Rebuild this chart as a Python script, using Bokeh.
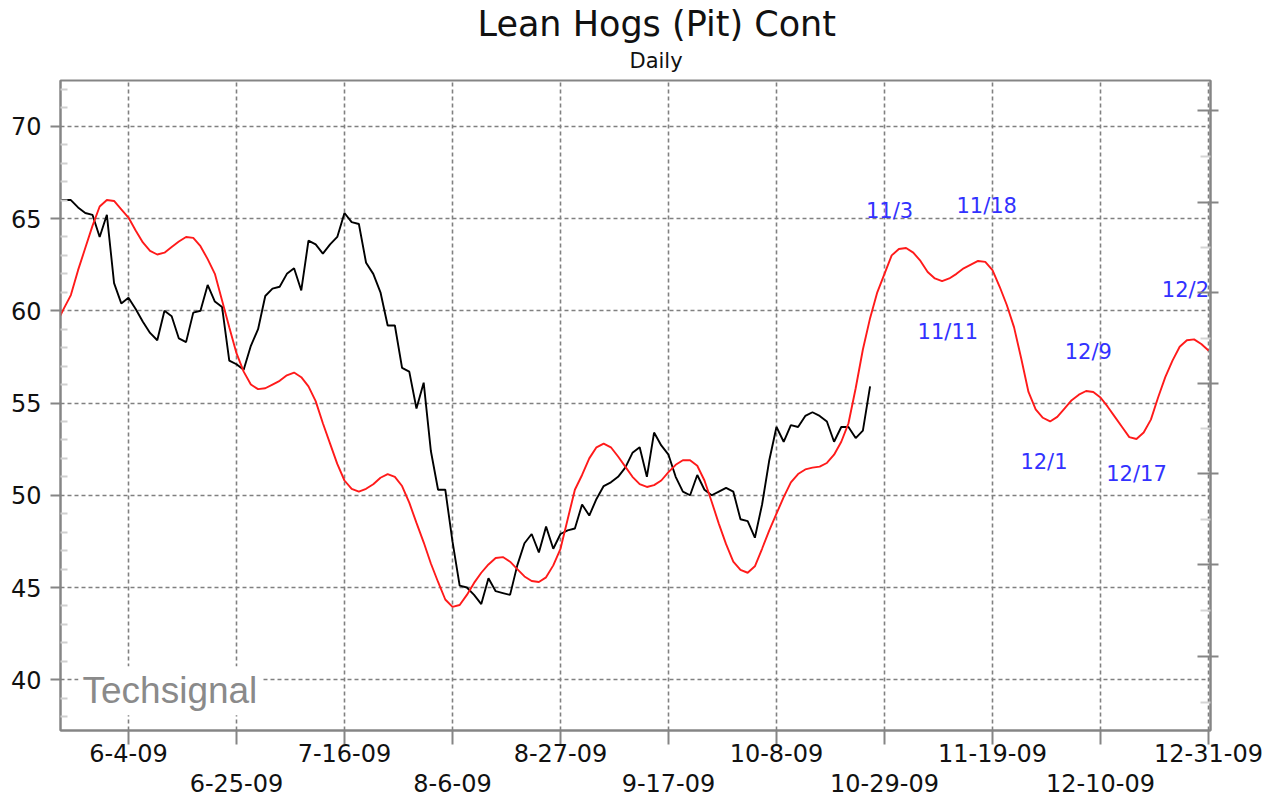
import numpy as np
from bokeh.plotting import figure
from bokeh.models import Range1d, FixedTicker, LinearAxis, Label, Title
from bokeh.core.properties import value
from bokeh.embed import file_html
from bokeh.resources import INLINE

# ---------------- data ----------------
axis_origin = "2009-06-04"          # trading-day axis, weekday spacing
tick_dates = ["2009-06-04", "2009-06-25", "2009-07-16", "2009-08-06", "2009-08-27",
              "2009-09-17", "2009-10-08", "2009-10-29", "2009-11-19", "2009-12-10",
              "2009-12-31"]
tick_labels = ["6-4-09", "6-25-09", "7-16-09", "8-6-09", "8-27-09", "9-17-09",
               "10-8-09", "10-29-09", "11-19-09", "12-10-09", "12-31-09"]
y_ticks = [40, 45, 50, 55, 60, 65, 70]

price_start = "2009-05-21"
price = [66.0, 66.0, 66.0, 65.6, 65.3, 65.2, 64.0, 65.2, 61.5, 60.4,
         60.7, 60.1, 59.4, 58.8, 58.4, 60.0, 59.7, 58.5, 58.3, 59.9,
         60.0, 61.4, 60.5, 60.2, 57.3, 57.1, 56.8, 58.1, 59.0, 60.8,
         61.2, 61.3, 62.0, 62.3, 61.1, 63.8, 63.6, 63.1, 63.6, 64.0,
         65.3, 64.8, 64.7, 62.6, 62.0, 61.0, 59.2, 59.2, 56.9, 56.7,
         54.7, 56.1, 52.4, 50.3, 50.3, 47.5, 45.1, 45.0, 44.6, 44.1,
         45.5, 44.8, 44.7, 44.6, 46.2, 47.4, 47.9, 46.9, 48.3, 47.1,
         47.9, 48.1, 48.2, 49.5, 48.9, 49.8, 50.5, 50.7, 51.0, 51.5,
         52.3, 52.6, 51.0, 53.4, 52.7, 52.2, 51.0, 50.2, 50.0, 51.1,
         50.3, 50.0, 50.2, 50.4, 50.2, 48.7, 48.6, 47.7, 49.5, 51.9,
         53.7, 52.9, 53.8, 53.7, 54.3, 54.5, 54.3, 54.0, 52.9, 53.7,
         53.7, 53.1, 53.5, 55.9]

cycle_start = "2009-05-21"
cycle = [59.3, 60.1, 60.85, 62.2, 63.4, 64.6, 65.65, 66.0, 65.95, 65.5,
         65.05, 64.35, 63.7, 63.25, 63.05, 63.15, 63.45, 63.75, 64.0, 63.95,
         63.5, 62.8, 62.0, 60.55, 59.1, 57.7, 56.7, 56.0, 55.75, 55.8,
         56.0, 56.2, 56.5, 56.65, 56.4, 55.9, 55.1, 53.9, 52.8, 51.7,
         50.8, 50.35, 50.2, 50.35, 50.6, 50.95, 51.15, 51.0, 50.5, 49.6,
         48.5, 47.45, 46.3, 45.3, 44.35, 43.95, 44.05, 44.6, 45.25, 45.8,
         46.25, 46.6, 46.65, 46.4, 46.0, 45.6, 45.35, 45.3, 45.55, 46.2,
         47.1, 48.7, 50.3, 51.1, 52.0, 52.6, 52.8, 52.6, 52.1, 51.55,
         51.0, 50.6, 50.45, 50.55, 50.8, 51.25, 51.65, 51.9, 51.9, 51.6,
         50.8, 49.65, 48.45, 47.35, 46.4, 45.95, 45.8, 46.15, 47.1, 48.1,
         49.0, 49.9, 50.7, 51.15, 51.4, 51.5, 51.55, 51.75, 52.2, 52.9,
         53.9, 55.8, 57.9, 59.6, 61.0, 62.0, 63.0, 63.35, 63.4, 63.15,
         62.7, 62.1, 61.75, 61.6, 61.75, 62.0, 62.3, 62.5, 62.7, 62.65,
         62.2, 61.3, 60.3, 59.1, 57.4, 55.6, 54.65, 54.2, 54.0, 54.25,
         54.7, 55.15, 55.45, 55.65, 55.6, 55.3, 54.8, 54.25, 53.7, 53.15,
         53.05, 53.4, 54.1, 55.3, 56.4, 57.3, 58.05, 58.4, 58.45, 58.2,
         57.85]

note_texts = ["11/3", "11/18", "11/11", "12/9", "12/1", "12/17", "12/2"]
note_x = [105.7, 119.2, 113.8, 133.3, 127.15, 140.0, 146.8]   # trading days from 6-4-09
note_y = [65.38, 65.70, 58.85, 57.76, 51.80, 51.15, 61.10]

right_ticks = [41.26, 46.24, 51.16, 56.04, 61.0, 65.88, 70.85]
right_minor = [38.78, 43.75, 48.7, 53.6, 58.52, 63.44, 68.37]

# ---------------- positions on the weekday axis ----------------
tick_x = [int(v) for v in np.busday_count(axis_origin, tick_dates)]
price_x = np.arange(len(price)) - int(np.busday_count(price_start, axis_origin))
cycle_x = np.arange(len(cycle)) - int(np.busday_count(cycle_start, axis_origin))

GRAY = "#858585"
TXT = "#111111"
FONT = "DejaVu Sans"
Y0, Y1 = 37.25, 72.48

p = figure(width=1277, height=800, output_backend="svg", toolbar_location=None,
           title=None,
           x_range=Range1d(-9.44, 150.28), y_range=Range1d(Y0, Y1),
           min_border_left=60, min_border_right=67, min_border_top=80,
           min_border_bottom=70,
           background_fill_color="white", border_fill_color="white")
p.outline_line_color = GRAY
p.outline_line_width = 2

# bottom axis: tick marks + staggered two-row date labels
xa = p.xaxis[0]
xa.ticker = FixedTicker(ticks=tick_x)
xa.major_label_overrides = {t: (lab if i % 2 == 0 else "\n" + lab)
                            for i, (t, lab) in enumerate(zip(tick_x, tick_labels))}
xa.axis_line_color = GRAY
xa.axis_line_width = 2
xa.major_tick_line_color = GRAY
xa.major_tick_line_width = 2
xa.major_tick_in = 0
xa.major_tick_out = 14
xa.minor_tick_line_color = None
xa.major_label_text_font = FONT
xa.major_label_text_font_size = "24px"
xa.major_label_text_line_height = 1.08
xa.major_label_text_color = TXT
xa.major_label_standoff = -5

# left axis
ya = p.yaxis[0]
ya.ticker = FixedTicker(ticks=y_ticks,
                        minor_ticks=[v for v in range(38, 73) if v % 5])
ya.axis_line_color = GRAY
ya.axis_line_width = 2
ya.major_tick_line_color = GRAY
ya.major_tick_line_width = 2
ya.major_tick_in = 0
ya.major_tick_out = 10
ya.minor_tick_line_color = "#cfcfcf"
ya.minor_tick_line_width = 2
ya.minor_tick_in = 7
ya.minor_tick_out = 0
ya.major_label_text_font = FONT
ya.major_label_text_font_size = "24px"
ya.major_label_text_color = TXT
ya.major_label_standoff = 9

# right axis (unlabelled scale)
yr = LinearAxis(ticker=FixedTicker(ticks=right_ticks, minor_ticks=right_minor),
                major_label_overrides={t: "" for t in right_ticks},
                major_label_text_font_size="0px",
                axis_line_color=GRAY, axis_line_width=2,
                major_tick_line_color=GRAY, major_tick_line_width=2,
                major_tick_in=13, major_tick_out=8,
                minor_tick_line_color="#d5d5d5", minor_tick_line_width=2,
                minor_tick_in=10, minor_tick_out=0)
p.add_layout(yr, "right")

for g in (p.xgrid[0], p.ygrid[0]):
    g.grid_line_color = "#808080"
    g.grid_line_width = 1.6
    g.grid_line_dash = "4 3"

# series
p.line(price_x, price, line_color="black", line_width=1.9)
p.line(cycle_x, cycle, line_color="#ff1a1a", line_width=1.9)

# cycle-date notes
p.text(x=note_x, y=note_y, text=note_texts, text_font=value(FONT),
       text_font_size="21px", text_color="#3232ff",
       text_align="center", text_baseline="middle")

# watermark
p.add_layout(Label(x=-6.94, y=39.41, text="Techsignal",
                   text_font="Liberation Sans", text_font_size="37px",
                   text_color="#8a8a8a", text_baseline="alphabetic",
                   background_fill_color="white", padding=4))

# titles (later one sits on top)
p.add_layout(Title(text="Daily", align="left", text_font=FONT,
                   text_font_size="21px", text_font_style="normal",
                   text_color=TXT, offset=569, standoff=15), "above")
p.add_layout(Title(text="Lean Hogs (Pit) Cont", align="left", text_font=FONT,
                   text_font_size="35px", text_font_style="normal",
                   text_color=TXT, offset=417, standoff=-9), "above")

open("out.html", "w").write(file_html(p, INLINE))
